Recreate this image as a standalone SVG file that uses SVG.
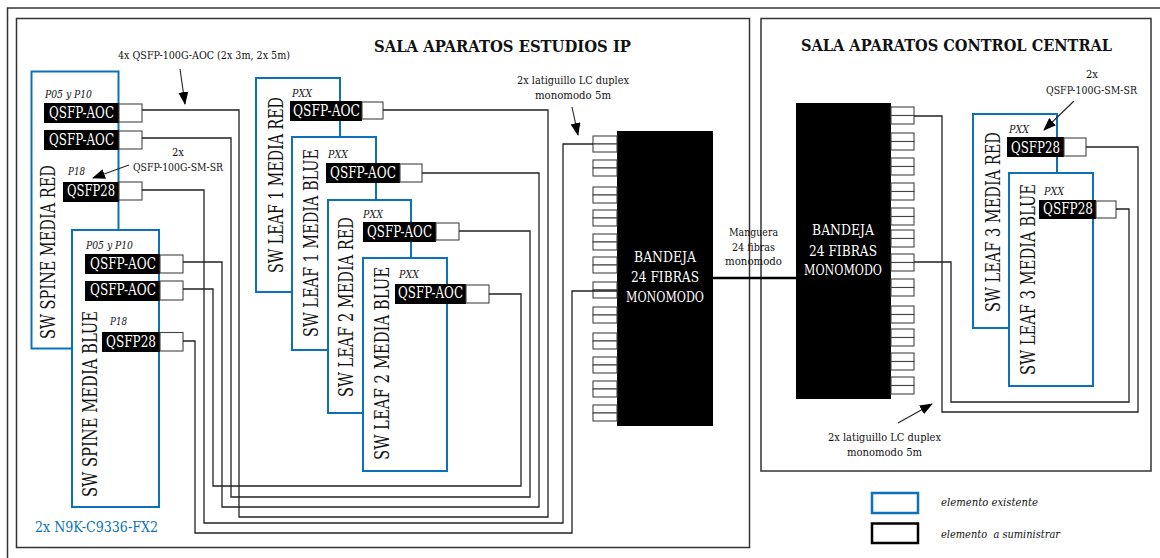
<svg xmlns="http://www.w3.org/2000/svg" width="1160" height="558" viewBox="0 0 1160 558">
<defs><marker id="a" markerWidth="13" markerHeight="10" refX="12" refY="5" orient="auto" markerUnits="userSpaceOnUse"><path d="M0 0L13 5L0 10Z" fill="#000"/></marker>
<g id="pa"><rect x="0" y="0" width="24" height="8"/><rect x="0" y="8" width="24" height="8"/></g>
<g id="pb"><rect x="0" y="0" width="23" height="8.500"/><rect x="0" y="8.500" width="23" height="8.500"/></g></defs>
<style>
text{font-family:"DejaVu Serif Condensed","DejaVu Serif","Liberation Serif",serif;fill:#111}
.b{fill:#fff;stroke:#0b72b9;stroke-width:2}
.f{fill:none;stroke:#333;stroke-width:1.500}
.c{fill:none;stroke:#222;stroke-width:1.300}
.p{fill:#fff;stroke:#444;stroke-width:1.100}
.k{fill:#000}
.q{font-size:16px;fill:#fff}
.sw{font-size:20px}
.i{font-size:11px;font-style:italic}
.s{font-size:11px}
.t{font-size:17px;font-weight:bold}
.w{font-size:15px;fill:#fff}
.l{fill:none;stroke:#222;stroke-width:1.100;marker-end:url(#a)}
</style>
<rect width="1160" height="558" fill="#fff"/>
<path d="M1160 8H7.500V558" class="f"/>
<rect x="16.500" y="18.500" width="733" height="529" class="f"/>
<rect x="761" y="18.500" width="390" height="452.500" class="f"/>
<text class="t" x="374" y="52" textLength="257" lengthAdjust="spacingAndGlyphs">SALA APARATOS ESTUDIOS IP</text>
<text class="t" x="801" y="51" textLength="311" lengthAdjust="spacingAndGlyphs">SALA APARATOS CONTROL CENTRAL</text>

<g id="sw-spine-red"><rect class="b" x="31.500" y="71.500" width="87" height="277"/><text class="sw" transform="translate(55 339) rotate(-90)" textLength="174" lengthAdjust="spacingAndGlyphs">SW SPINE MEDIA RED</text>
<text class="i" x="45" y="98" textLength="47" lengthAdjust="spacingAndGlyphs">P05 y P10</text><text class="i" x="68" y="175" textLength="17" lengthAdjust="spacingAndGlyphs">P18</text>
<rect class="k" x="44" y="103" width="75" height="20"/><text class="q" x="49" y="118" textLength="65" lengthAdjust="spacingAndGlyphs">QSFP-AOC</text><rect class="p" x="119" y="104" width="23" height="18"/>
<rect class="k" x="44" y="130" width="75" height="20"/><text class="q" x="49" y="145" textLength="65" lengthAdjust="spacingAndGlyphs">QSFP-AOC</text><rect class="p" x="119" y="131" width="23" height="18"/>
<rect class="k" x="63" y="182" width="56" height="20"/><text class="q" x="67" y="196" textLength="48" lengthAdjust="spacingAndGlyphs">QSFP28</text><rect class="p" x="119" y="182" width="23" height="18"/></g>

<g id="sw-spine-blue"><rect class="b" x="72" y="230" width="87" height="277"/><text class="sw" transform="translate(96.500 497) rotate(-90)" textLength="186" lengthAdjust="spacingAndGlyphs">SW SPINE MEDIA BLUE</text>
<text class="i" x="86" y="249" textLength="47" lengthAdjust="spacingAndGlyphs">P05 y P10</text><text class="i" x="110" y="325" textLength="17" lengthAdjust="spacingAndGlyphs">P18</text>
<rect class="k" x="85" y="254" width="75" height="20"/><text class="q" x="90" y="269" textLength="66" lengthAdjust="spacingAndGlyphs">QSFP-AOC</text><rect class="p" x="160" y="255" width="23" height="18"/>
<rect class="k" x="85" y="281" width="75" height="20"/><text class="q" x="90" y="295" textLength="66" lengthAdjust="spacingAndGlyphs">QSFP-AOC</text><rect class="p" x="160" y="281" width="23" height="19"/>
<rect class="k" x="102" y="332" width="58" height="20"/><text class="q" x="106" y="347" textLength="50" lengthAdjust="spacingAndGlyphs">QSFP28</text><rect class="p" x="160" y="332.500" width="23" height="18.500"/></g>

<g id="sw-leaf1-red"><rect class="b" x="256" y="78" width="84" height="214"/><text class="sw" transform="translate(282.500 273) rotate(-90)" textLength="176" lengthAdjust="spacingAndGlyphs">SW LEAF 1 MEDIA RED</text>
<text class="i" x="292" y="97" textLength="20" lengthAdjust="spacingAndGlyphs">PXX</text><rect class="k" x="290" y="101" width="72" height="20"/><text class="q" x="293" y="116" textLength="67" lengthAdjust="spacingAndGlyphs">QSFP-AOC</text><rect class="p" x="362" y="102" width="21" height="17"/></g>
<g id="sw-leaf1-blue"><rect class="b" x="292" y="137" width="84" height="213"/><text class="sw" transform="translate(318 337) rotate(-90)" textLength="188" lengthAdjust="spacingAndGlyphs">SW LEAF 1 MEDIA BLUE</text>
<text class="i" x="328" y="158" textLength="20" lengthAdjust="spacingAndGlyphs">PXX</text><rect class="k" x="326" y="163" width="74" height="20"/><text class="q" x="330" y="178" textLength="66" lengthAdjust="spacingAndGlyphs">QSFP-AOC</text><rect class="p" x="400" y="164" width="22" height="18"/></g>
<g id="sw-leaf2-red"><rect class="b" x="328" y="200" width="83" height="213"/><text class="sw" transform="translate(353 397) rotate(-90)" textLength="180" lengthAdjust="spacingAndGlyphs">SW LEAF 2 MEDIA RED</text>
<text class="i" x="363" y="218" textLength="20" lengthAdjust="spacingAndGlyphs">PXX</text><rect class="k" x="363" y="222" width="73" height="20"/><text class="q" x="367" y="237" textLength="65" lengthAdjust="spacingAndGlyphs">QSFP-AOC</text><rect class="p" x="436" y="223" width="23" height="17"/></g>
<g id="sw-leaf2-blue"><rect class="b" x="363" y="258" width="84" height="213"/><text class="sw" transform="translate(389 460) rotate(-90)" textLength="193" lengthAdjust="spacingAndGlyphs">SW LEAF 2 MEDIA BLUE</text>
<text class="i" x="399" y="278" textLength="20" lengthAdjust="spacingAndGlyphs">PXX</text><rect class="k" x="395" y="284" width="71" height="20"/><text class="q" x="398" y="298" textLength="65" lengthAdjust="spacingAndGlyphs">QSFP-AOC</text><rect class="p" x="466" y="285" width="23" height="18"/></g>
<g id="sw-leaf3-red"><rect class="b" x="973" y="114" width="84" height="214"/><text class="sw" transform="translate(1000 312) rotate(-90)" textLength="180" lengthAdjust="spacingAndGlyphs">SW LEAF 3 MEDIA RED</text>
<text class="i" x="1009" y="133" textLength="20" lengthAdjust="spacingAndGlyphs">PXX</text><rect class="k" x="1007" y="137" width="57" height="20"/><text class="q" x="1011" y="153" textLength="49" lengthAdjust="spacingAndGlyphs">QSFP28</text><rect class="p" x="1064" y="138" width="22" height="18"/></g>
<g id="sw-leaf3-blue"><rect class="b" x="1009" y="173" width="84" height="213"/><text class="sw" transform="translate(1035 375) rotate(-90)" textLength="191" lengthAdjust="spacingAndGlyphs">SW LEAF 3 MEDIA BLUE</text>
<text class="i" x="1044" y="195" textLength="20" lengthAdjust="spacingAndGlyphs">PXX</text><rect class="k" x="1039" y="200" width="57" height="19"/><text class="q" x="1043" y="214" textLength="50" lengthAdjust="spacingAndGlyphs">QSFP28</text><rect class="p" x="1096" y="201" width="20" height="17"/></g>

<g id="bandeja-1"><rect class="k" x="617" y="131" width="96" height="295"/><text class="w" x="634" y="262" textLength="62" lengthAdjust="spacingAndGlyphs">BANDEJA</text><text class="w" x="631" y="282" textLength="68" lengthAdjust="spacingAndGlyphs">24 FIBRAS</text><text class="w" x="626" y="302" textLength="78" lengthAdjust="spacingAndGlyphs">MONOMODO</text>
<g class="p"><use href="#pa" x="593" y="136"/><use href="#pa" x="593" y="160"/><use href="#pa" x="593" y="187"/><use href="#pa" x="593" y="210"/><use href="#pa" x="593" y="234"/><use href="#pa" x="593" y="257"/><use href="#pa" x="593" y="282"/><use href="#pa" x="593" y="307"/><use href="#pa" x="593" y="333"/><use href="#pa" x="593" y="357"/><use href="#pa" x="593" y="381"/><use href="#pa" x="593" y="405"/></g></g>
<g id="bandeja-2"><rect class="k" x="796" y="103" width="95" height="296"/><text class="w" x="812" y="235" textLength="62" lengthAdjust="spacingAndGlyphs">BANDEJA</text><text class="w" x="809" y="256" textLength="68" lengthAdjust="spacingAndGlyphs">24 FIBRAS</text><text class="w" x="804" y="275" textLength="78" lengthAdjust="spacingAndGlyphs">MONOMODO</text>
<g class="p"><use href="#pb" x="891" y="107"/><use href="#pb" x="891" y="133"/><use href="#pb" x="891" y="158"/><use href="#pb" x="891" y="183"/><use href="#pb" x="891" y="208"/><use href="#pb" x="891" y="230"/><use href="#pb" x="891" y="254"/><use href="#pb" x="891" y="279"/><use href="#pb" x="891" y="306"/><use href="#pb" x="891" y="329"/><use href="#pb" x="891" y="353"/><use href="#pb" x="891" y="377"/></g></g>

<g id="connectors">
<path class="c" d="M142 110H239V517H548V110H383"/>
<path class="c" d="M142 138H231V497H530V231H459"/>
<path class="c" d="M142 190H204V523H563V144H593"/>
<path class="c" d="M183 262H222V507H539V173H422"/>
<path class="c" d="M183 289H213V486H521V294H489"/>
<path class="c" d="M183 341H195V533H572V291H617"/>
<path d="M713 278H796" fill="none" stroke="#000" stroke-width="2.500"/>
<path class="c" d="M914 116H942V412H1138V147H1086"/>
<path class="c" d="M914 262H951V402H1129V209H1116"/>
</g>
<g id="labels">
<text class="s" x="118" y="59" textLength="172" lengthAdjust="spacingAndGlyphs">4x QSFP-100G-AOC (2x 3m, 2x 5m)</text>
<path class="l" d="M180 69L185 104"/>
<text class="s" x="172" y="156" textLength="12" lengthAdjust="spacingAndGlyphs">2x</text><text class="s" x="133" y="171" textLength="90" lengthAdjust="spacingAndGlyphs">QSFP-100G-SM-SR</text>
<path class="l" d="M129 165L93 178"/>
<text class="s" x="517" y="84" textLength="112" lengthAdjust="spacingAndGlyphs">2x latiguillo LC duplex</text><text class="s" x="535" y="99" textLength="76" lengthAdjust="spacingAndGlyphs">monomodo 5m</text>
<path class="l" d="M572 107L578 135"/>
<text class="s" x="729" y="236" textLength="49" lengthAdjust="spacingAndGlyphs">Manguera</text><text class="s" x="732" y="251" textLength="43" lengthAdjust="spacingAndGlyphs">24 fibras</text><text class="s" x="725" y="265" textLength="57" lengthAdjust="spacingAndGlyphs">monomodo</text>
<text class="s" x="1086" y="78" textLength="12" lengthAdjust="spacingAndGlyphs">2x</text><text class="s" x="1046" y="94" textLength="91" lengthAdjust="spacingAndGlyphs">QSFP-100G-SM-SR</text>
<path class="l" d="M1074 101L1044 130"/>
<text class="s" x="828" y="441" textLength="113" lengthAdjust="spacingAndGlyphs">2x latiguillo LC duplex</text><text class="s" x="847" y="456" textLength="75" lengthAdjust="spacingAndGlyphs">monomodo 5m</text>
<path class="l" d="M898 423L932 404"/>
<text x="35" y="532" font-size="15" style="fill:#0b72b9" textLength="123" lengthAdjust="spacingAndGlyphs">2x N9K-C9336-FX2</text>
</g>
<g id="legend"><rect x="872" y="493" width="46" height="20" fill="#fff" stroke="#0b72b9" stroke-width="2.500"/><rect x="872" y="523.500" width="46" height="19.500" fill="#fff" stroke="#000" stroke-width="2.500"/>
<text class="i" x="941" y="506" textLength="97" lengthAdjust="spacingAndGlyphs">elemento existente</text><text class="i" x="941" y="538" textLength="119" lengthAdjust="spacingAndGlyphs" style="white-space:pre">elemento  a suministrar</text></g>
</svg>
